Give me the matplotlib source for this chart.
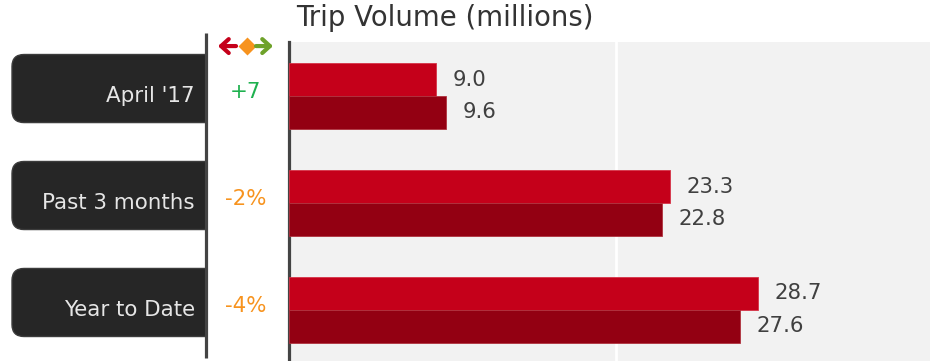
import matplotlib
matplotlib.use("Agg")
import matplotlib.pyplot as plt
from matplotlib.patches import FancyBboxPatch, Rectangle

# --- data ---------------------------------------------------------------
categories = ["April '17", "Past 3 months", "Year to Date"]
current = [9.0, 23.3, 28.7]      # upper bar in each group
previous = [9.6, 22.8, 27.6]     # lower bar in each group
changes = ["+7", "-2%", "-4%"]
change_colors = ["#1fb14f", "#f7931e", "#f7931e"]

RED = "#c5001a"
DARK_RED = "#930012"
BG = "#f2f2f2"
SPINE = "#444444"

W, H = 930, 361
fig = plt.figure(figsize=(W / 100, H / 100), dpi=100)
plt.rcParams["font.family"] = "DejaVu Sans"

px_top, px_left = 42, 289
ax = fig.add_axes([px_left / W, 0, 1 - px_left / W, 1 - px_top / H])
axl = fig.add_axes([0, 0, px_left / W, 1 - px_top / H], sharey=ax)

# --- bars ---------------------------------------------------------------
ypos = list(range(len(categories)))
bh = 0.308
ax.set_facecolor(BG)
ax.barh([y - bh / 2 for y in ypos], current, height=bh, color=RED,
        edgecolor="#d63347", linewidth=0.6, zorder=3)
ax.barh([y + bh / 2 for y in ypos], previous, height=bh, color=DARK_RED,
        edgecolor="#b0333f", linewidth=0.6, zorder=3)

for y, v in zip(ypos, current):
    ax.annotate(f"{v:.1f}", xy=(v, y - bh / 2), xytext=(12, 0),
                textcoords="offset points", va="center", ha="left",
                fontsize=15.3, color="#404040")
for y, v in zip(ypos, previous):
    ax.annotate(f"{v:.1f}", xy=(v, y + bh / 2), xytext=(12, 0),
                textcoords="offset points", va="center", ha="left",
                fontsize=15.3, color="#404040")

ax.axvline(20, color="white", lw=2, zorder=1)
ax.set_xlim(0, 39.2)
ax.set_ylim(2.477, -0.505)
ax.tick_params(left=False, bottom=False, labelleft=False, labelbottom=False)
for s in ("top", "right", "bottom"):
    ax.spines[s].set_visible(False)
ax.spines["left"].set_color(SPINE)
ax.spines["left"].set_linewidth(2.3)

# --- left panel: category tabs and change indicators ---------------------
axl.set_xlim(0, px_left)
axl.axis("off")
px = 1 / 107  # y units per pixel
for y, name, ch, cc in zip(ypos, categories, changes, change_colors):
    top = y - 0.07 - 0.318
    # rounded tab, cut off square where it meets the divider line
    tab = FancyBboxPatch((12, top), 230, 0.636,
                         boxstyle="round,pad=0,rounding_size=12",
                         mutation_aspect=px, facecolor="#262626",
                         edgecolor="#3c3c3c", lw=1, zorder=2)
    axl.add_patch(tab)
    clip = Rectangle((0, top - 0.1), 205, 0.9, transform=axl.transData)
    tab.set_clip_path(clip)
    axl.text(195, y, name, ha="right", va="center", fontsize=15.4,
             color="#e6e6e6", zorder=3)
    axl.text(246, y - 0.035, ch, ha="center", va="center", fontsize=15.4,
             color=cc, zorder=3)

axl.plot([205.5, 205.5], [-0.589, 2.449], color=SPINE, lw=2.3,
         solid_capstyle="butt", clip_on=False, zorder=4)

# legend glyphs: down / flat / up
ay = -0.467
arrow = "->,head_length=0.55,head_width=0.5"
axl.annotate("", xy=(218, ay), xytext=(236, ay), annotation_clip=False,
             arrowprops=dict(arrowstyle=arrow, color="#c5001a", lw=3,
                             shrinkA=0, shrinkB=0))
axl.plot([246.5], [ay], marker="D", ms=9.5, color="#f7931e", mec="none",
         clip_on=False)
axl.annotate("", xy=(273, ay), xytext=(256, ay), annotation_clip=False,
             arrowprops=dict(arrowstyle=arrow, color="#6ea22a", lw=3,
                             shrinkA=0, shrinkB=0))

fig.text(445 / W, 1 - 18 / H, "Trip Volume (millions)", ha="center",
         va="center", fontsize=19.8, color="#333333")

fig.savefig("out.png", dpi=100)
